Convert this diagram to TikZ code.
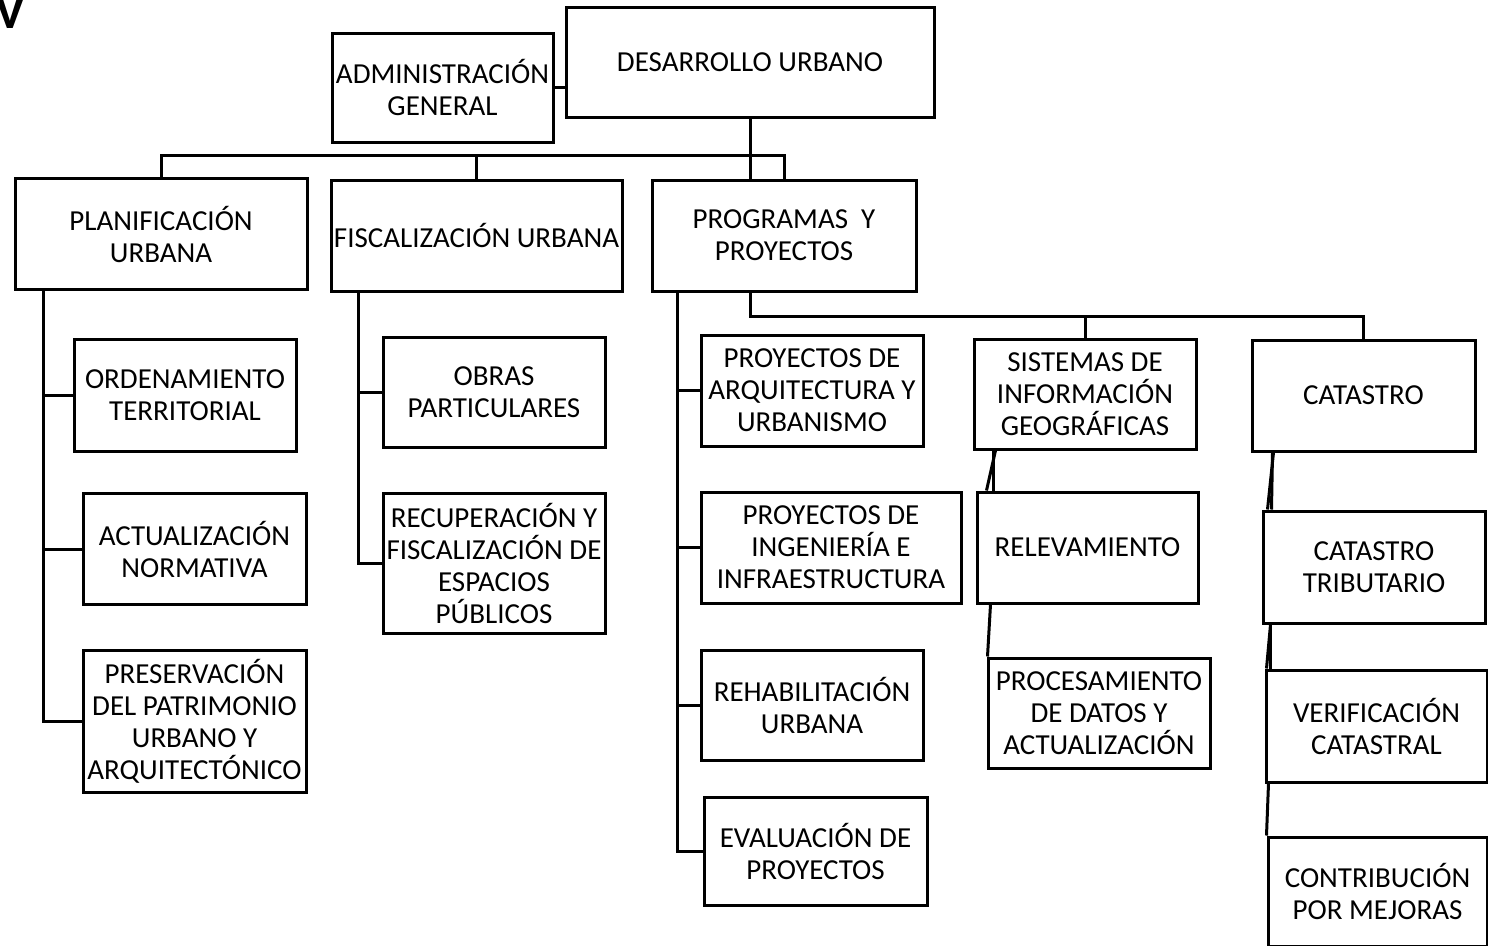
\documentclass[tikz,border=0pt]{standalone}
\usepackage{fontspec}
\setmainfont{Carlito}
\usetikzlibrary{calc}

\tikzset{
  caja/.style={draw, line width=3pt, align=center, inner sep=0pt, font=\fontsize{29}{32}\selectfont},
  linea/.style={line width=3pt},
}

\begin{document}
\begin{tikzpicture}[x=1pt, y=-1pt]
  \useasboundingbox (0,0) rectangle (1488,945);
  \clip (0,0) rectangle (1488,945);
  \node[font=\bfseries\fontsize{50}{50}\selectfont, anchor=base, inner sep=0pt] (v) at (10,28) {V};
  % nivel 1
  \node[caja, minimum width=368pt, minimum height=110pt] (du) at (750,62) {DESARROLLO URBANO};
  \node[caja, minimum width=221pt, minimum height=109pt] (admin) at (442.5,87.5) {ADMINISTRACIÓN\\GENERAL};
  % nivel 2
  \node[caja, minimum width=292pt, minimum height=111pt] (plan) at (161,234) {PLANIFICACIÓN\\URBANA};
  \node[caja, minimum width=291pt, minimum height=111pt] (fisc) at (476.5,235.5) {FISCALIZACIÓN URBANA};
  \node[caja, minimum width=264pt, minimum height=111pt] (prog) at (784,235.5) {PROGRAMAS\ \ Y\\PROYECTOS};
  % planificacion
  \node[caja, minimum width=222pt, minimum height=112pt] (ord) at (185,395) {ORDENAMIENTO\\TERRITORIAL};
  \node[caja, minimum width=223pt, minimum height=111pt] (act) at (194.5,549) {ACTUALIZACIÓN\\NORMATIVA};
  \node[caja, minimum width=223pt, minimum height=142pt] (pres) at (194.5,721.5) {PRESERVACIÓN\\DEL PATRIMONIO\\URBANO Y\\ARQUITECTÓNICO};
  % fiscalizacion
  \node[caja, minimum width=222pt, minimum height=110pt] (obras) at (494,392) {OBRAS\\PARTICULARES};
  \node[caja, minimum width=222pt, minimum height=140pt] (recup) at (494,563) {RECUPERACIÓN Y\\FISCALIZACIÓN DE\\ESPACIOS\\PÚBLICOS};
  % programas
  \node[caja, minimum width=222pt, minimum height=111pt] (arq) at (812,390.5) {PROYECTOS DE\\ARQUITECTURA Y\\URBANISMO};
  \node[caja, minimum width=260pt, minimum height=111pt] (ing) at (831,547.5) {PROYECTOS DE\\INGENIERÍA E\\INFRAESTRUCTURA};
  \node[caja, minimum width=222pt, minimum height=110pt] (rehab) at (812,705) {REHABILITACIÓN\\URBANA};
  \node[caja, minimum width=223pt, minimum height=108pt] (eval) at (815.5,851) {EVALUACIÓN DE\\PROYECTOS};
  \node[caja, minimum width=222pt, minimum height=110pt] (sig) at (1085,394) {SISTEMAS DE\\INFORMACIÓN\\GEOGRÁFICAS};
  \node[caja, minimum width=223pt, minimum height=111pt] (cat) at (1363.5,395.5) {CATASTRO};
  \node[caja, minimum width=221pt, minimum height=111pt] (relev) at (1087.5,547.5) {RELEVAMIENTO};
  \node[caja, minimum width=222pt, minimum height=110pt] (proc) at (1099,713) {PROCESAMIENTO\\DE DATOS Y\\ACTUALIZACIÓN};
  \node[caja, minimum width=222pt, minimum height=112pt] (ct) at (1374,567) {CATASTRO\\TRIBUTARIO};
  \node[caja, minimum width=221pt, minimum height=112pt] (ver) at (1376.5,726) {VERIFICACIÓN\\CATASTRAL};
  \node[caja, minimum width=219pt, minimum height=109pt] (contr) at (1377.5,891.5) {CONTRIBUCIÓN\\POR MEJORAS};

  \draw[linea] (admin.east) -- (admin.east -| du.west);
  \draw[linea] (du.south) -- (du.south |- prog.north);
  \coordinate (bus1) at (0,155);
  \draw[linea] (plan.north) |- (bus1 -| prog.north) -- (prog.north);
  \draw[linea] (fisc.north) -- (fisc.north |- bus1);

  \coordinate (ejeP) at ([xshift=30pt]plan.south west);
  \draw[linea] (ejeP) |- (pres.west);
  \foreach \n in {ord,act} \draw[linea] (\n.west) -- (\n.west -| ejeP);
  \coordinate (ejeF) at ([xshift=29pt]fisc.south west);
  \draw[linea] (ejeF) |- (recup.west);
  \draw[linea] (obras.west) -- (obras.west -| ejeF);
  \coordinate (ejeR) at ([xshift=27pt]prog.south west);
  \draw[linea] (ejeR) |- (eval.west);
  \foreach \n in {arq,ing,rehab} \draw[linea] (\n.west) -- (\n.west -| ejeR);

  \coordinate (bus2) at (0,316);
  \draw[linea] (du.south |- prog.south) |- (bus2 -| cat.north) -- (cat.north);
  \draw[linea] (sig.north) -- (sig.north |- bus2);

  \draw[linea] ([xshift=23pt]sig.south west) -- ([xshift=11pt]relev.north west);
  \draw[linea] ([xshift=21pt]sig.south west) -- ([xshift=18pt]relev.north west);
  \draw[linea] ([xshift=15pt]relev.south west) -- ([xshift=1pt]proc.north west);
  \draw[linea] ([xshift=23pt]cat.south west) -- ([xshift=6pt]ct.north west);
  \draw[linea] ([xshift=22pt]cat.south west) -- ([xshift=10pt]ct.north west);
  \draw[linea] ([xshift=9pt]ct.south west) -- ([xshift=2pt]ver.north west);
  \draw[linea] ([xshift=9pt]ct.south west) -- ([xshift=6pt]ver.north west);
  \draw[linea] ([xshift=4pt]ver.south west) -- (contr.north west);
\end{tikzpicture}
\end{document}
